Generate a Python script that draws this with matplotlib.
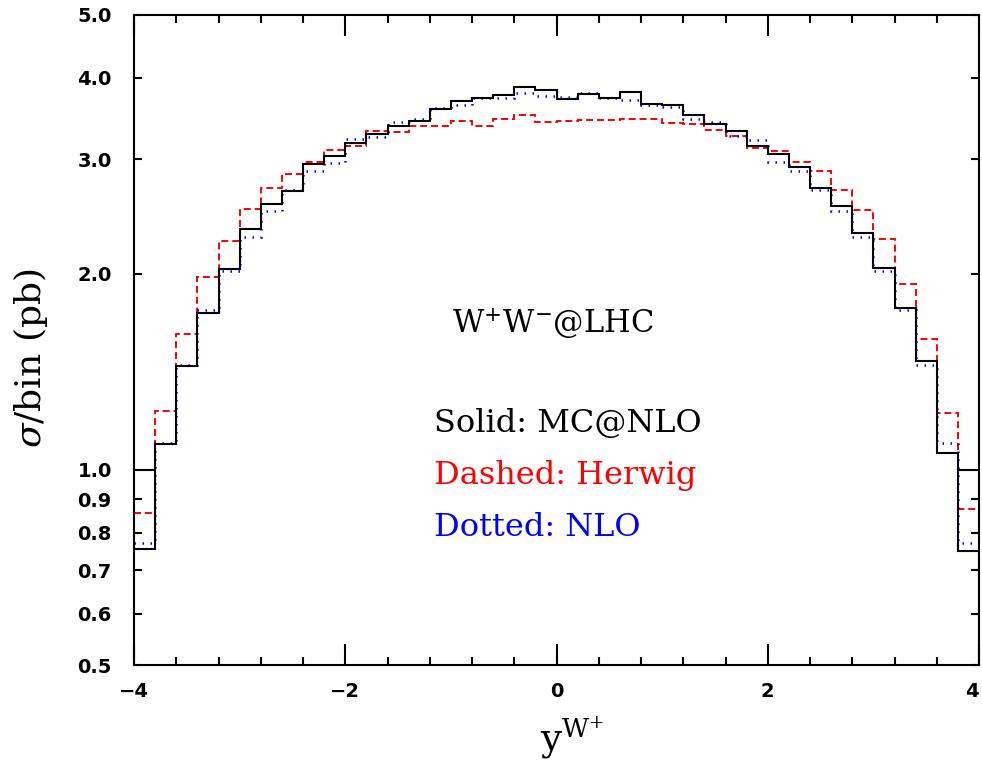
#!/usr/bin/env python3
"""
W+W- @ LHC: y(W+) 分布, MC@NLO / Herwig / NLO 对比
"""

import numpy as np
import matplotlib
matplotlib.use('Agg')
import matplotlib.pyplot as plt
from matplotlib.ticker import FixedLocator, FuncFormatter, MultipleLocator

plt.rcParams['font.family'] = ['DejaVu Serif', 'DejaVu Sans']
plt.rcParams['mathtext.fontset'] = 'dejavuserif'

# bin edges: -4 .. 4, width 0.2
edges = np.linspace(-4, 4, 41)

# sigma/bin (pb)
mcatnlo = [0.754, 1.094, 1.445, 1.738, 2.033, 2.343, 2.56, 2.68, 2.952, 3.034,
           3.18, 3.28, 3.38, 3.44, 3.58, 3.69, 3.72, 3.76, 3.87, 3.84,
           3.71, 3.78, 3.72, 3.81, 3.65, 3.63, 3.51, 3.40, 3.31, 3.14,
           3.06, 2.92, 2.71, 2.54, 2.31, 2.04, 1.77, 1.47, 1.06, 0.75]

herwig = [0.856, 1.229, 1.615, 1.978, 2.246, 2.512, 2.709, 2.85, 2.97, 3.10,
          3.14, 3.32, 3.30, 3.37, 3.37, 3.43, 3.37, 3.46, 3.505, 3.42,
          3.43, 3.45, 3.45, 3.465, 3.465, 3.41, 3.40, 3.33, 3.26, 3.12,
          3.09, 2.97, 2.88, 2.69, 2.51, 2.26, 1.93, 1.585, 1.22, 0.87]

nlo = [0.770, 1.10, 1.45, 1.758, 2.02, 2.28, 2.494, 2.69, 2.88, 2.96,
       3.22, 3.25, 3.42, 3.46, 3.60, 3.64, 3.72, 3.73, 3.79, 3.75,
       3.74, 3.79, 3.72, 3.70, 3.63, 3.61, 3.465, 3.42, 3.26, 3.21,
       2.97, 2.88, 2.69, 2.50, 2.28, 2.02, 1.76, 1.45, 1.10, 0.77]

y_minor_ticks = [0.5, 0.6, 0.7, 0.8, 0.9, 2.0, 3.0, 4.0, 5.0]
y_major_ticks = [1.0]

fig = plt.figure(figsize=(9.82, 7.64), dpi=100)
ax = fig.add_axes([0.1365, 0.1292, 0.8605, 0.8512])

# 直方图 (右端落到底边, 左端由坐标轴遮住)
styles = [
    (herwig, dict(color='red', linewidth=1.4, linestyle=(0, (3.6, 2.0)))),
    (nlo, dict(color='blue', linewidth=1.8, linestyle=(0, (0.6, 2.6)))),
    (mcatnlo, dict(color='black', linewidth=1.5, linestyle='-')),
]
for vals, kw in styles:
    ax.stairs(vals, edges, baseline=None, **kw)
    ax.vlines(edges[-1], 0.3, vals[-1], **kw)

ax.set_yscale('log')
ax.set_xlim(-4, 4)
ax.set_ylim(0.5, 5.0)

ax.yaxis.set_major_locator(FixedLocator(y_major_ticks))
ax.yaxis.set_minor_locator(FixedLocator(y_minor_ticks))
ax.yaxis.set_major_formatter(FuncFormatter(lambda v, p: f'{v:.1f}'))
ax.yaxis.set_minor_formatter(FuncFormatter(lambda v, p: f'{v:.1f}'))
ax.xaxis.set_major_locator(MultipleLocator(2))
ax.xaxis.set_minor_locator(MultipleLocator(0.4))

ax.tick_params(which='both', direction='in', top=True, right=True,
               width=1.5, colors='black')
ax.tick_params(which='major', length=15)
ax.tick_params(which='minor', length=5.5)
ax.tick_params(axis='y', which='both', pad=16)
ax.tick_params(axis='x', which='both', pad=12)

fig.canvas.draw()
for lab in ax.get_yticklabels(which='both') + ax.get_xticklabels():
    lab.set_family('DejaVu Sans')
    lab.set_fontweight('bold')
    lab.set_fontsize(14)
# 最右边的 "4" 贴着图边, 右对齐免得被裁掉
for tick in ax.xaxis.get_major_ticks():
    if np.isclose(tick.get_loc(), edges[-1]):
        tick.label1.set_horizontalalignment('right')

for sp in ax.spines.values():
    sp.set_linewidth(1.5)

# 轴标签
ax.text(-0.122, 0.473, r'$\sigma$/bin (pb)', transform=ax.transAxes,
        rotation=90, ha='center', va='center', fontsize=26)
ax.text(0.518, -0.13, r'y$^{\mathrm{W}^{+}}$', transform=ax.transAxes,
        ha='center', va='baseline', fontsize=27)

# 图内文字
ax.text(-0.99, 1.62, r'W$^{+}$W$^{-}$@LHC', fontsize=22, va='baseline')
ax.text(-1.16, 1.143, 'Solid: MC@NLO', fontsize=23, va='baseline', color='black')
ax.text(-1.16, 0.95, 'Dashed: Herwig', fontsize=23, va='baseline', color='red')
ax.text(-1.16, 0.79, 'Dotted: NLO', fontsize=23, va='baseline', color='blue')

fig.savefig('out.png', dpi=100)
plt.close(fig)
